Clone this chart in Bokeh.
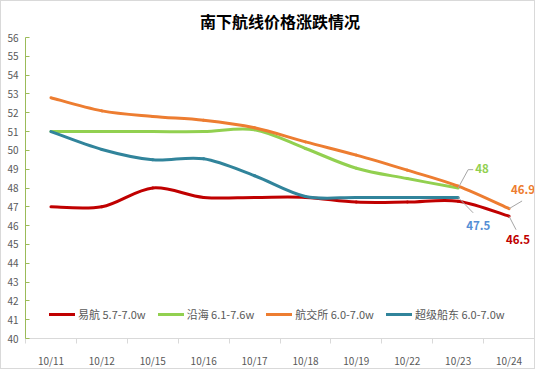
from bokeh.plotting import figure
from bokeh.models import FixedTicker, Legend, LegendItem, ColumnDataSource
from bokeh.core.properties import value
from bokeh.embed import file_html
from bokeh.resources import INLINE

# ---- data ----
dates = ["10/11", "10/12", "10/15", "10/16", "10/17", "10/18", "10/19", "10/22", "10/23", "10/24"]
yihang = [47.0, 47.0, 48.0, 47.5, 47.5, 47.5, 47.25, 47.25, 47.3, 46.5]
yanhai = [51.0, 51.0, 51.0, 51.0, 51.1, 50.1, 49.05, 48.5, 48.0, None]
hangjiaosuo = [52.8, 52.1, 51.8, 51.6, 51.2, 50.45, 49.75, 48.95, 48.1, 46.9]
chaoji = [51.0, 50.05, 49.5, 49.55, 48.65, 47.55, 47.5, 47.5, 47.5, None]

series_names = ["易航 5.7-7.0w", "沿海 6.1-7.6w", "航交所 6.0-7.0w", "超级船东 6.0-7.0w"]
series_vals = [yihang, yanhai, hangjiaosuo, chaoji]
series_colors = ["#C00000", "#92D050", "#ED7D31", "#31849B"]

FONT = "Noto Sans CJK SC"

p = figure(width=535, height=369, x_range=(-0.5, 9.5), y_range=(40, 56),
           output_backend="svg", toolbar_location=None,
           min_border_left=24, min_border_right=2, min_border_bottom=23, min_border_top=34)

p.title.text = "南下航线价格涨跌情况"
p.title.text_font = FONT
p.title.text_font_size = "16px"
p.title.text_font_style = "bold"
p.title.text_color = "#000000"
p.title.align = "center"

p.xgrid.visible = False
p.ygrid.visible = False
p.outline_line_color = None
p.background_fill_color = "white"
p.border_fill_color = "white"

# x axis
xa = p.xaxis[0]
xa.ticker = FixedTicker(ticks=list(range(len(dates))), minor_ticks=[i - 0.5 for i in range(len(dates) + 1)])
xa.major_label_overrides = {i: d for i, d in enumerate(dates)}
xa.major_tick_line_color = None
xa.major_tick_out = 0
xa.major_tick_in = 0
xa.minor_tick_line_color = "#D9D9D9"
xa.minor_tick_out = 5
xa.minor_tick_in = 0
xa.axis_line_color = "#D9D9D9"
xa.major_label_text_font = FONT
xa.major_label_text_font_size = "10px"
xa.major_label_text_color = "#595959"
xa.major_label_standoff = 9

# y axis
ya = p.yaxis[0]
ya.ticker = FixedTicker(ticks=list(range(40, 57)))
ya.major_tick_in = 4
ya.major_tick_out = 0
ya.major_tick_line_color = "#9BBB59"
ya.minor_tick_line_color = None
ya.axis_line_color = "#9BBB59"
ya.major_label_text_font = FONT
ya.major_label_text_font_size = "10px"
ya.major_label_text_color = "#595959"
ya.major_label_standoff = 7

# smoothed lines (Catmull-Rom style bezier through the data points)
items = []
for name, vals, col in zip(series_names, series_vals, series_colors):
    pts = [(i, v) for i, v in enumerate(vals) if v is not None]
    n = len(pts)
    x0, y0, x1, y1, cx0, cy0, cx1, cy1 = [], [], [], [], [], [], [], []
    for i in range(n - 1):
        pm = pts[i - 1] if i > 0 else pts[i]
        pa = pts[i]
        pb = pts[i + 1]
        pn = pts[i + 2] if i + 2 < n else pts[i + 1]
        x0.append(pa[0]); y0.append(pa[1])
        x1.append(pb[0]); y1.append(pb[1])
        cx0.append(pa[0] + (pb[0] - pm[0]) / 6.0)
        cy0.append(pa[1] + (pb[1] - pm[1]) / 6.0)
        cx1.append(pb[0] - (pn[0] - pa[0]) / 6.0)
        cy1.append(pb[1] - (pn[1] - pa[1]) / 6.0)
    src = ColumnDataSource(dict(x0=x0, y0=y0, x1=x1, y1=y1, cx0=cx0, cy0=cy0, cx1=cx1, cy1=cy1))
    r = p.bezier(x0="x0", y0="y0", x1="x1", y1="y1", cx0="cx0", cy0="cy0", cx1="cx1", cy1="cy1",
                 source=src, line_color=col, line_width=3, line_cap="round")
    items.append(LegendItem(label=name, renderers=[r]))

legend = Legend(items=items, orientation="horizontal", location=(24, 16),
                glyph_width=26, glyph_height=14, label_standoff=3, spacing=12,
                padding=0, margin=0, border_line_color=None, background_fill_alpha=0,
                label_text_font=FONT, label_text_font_size="11px", label_text_color="#595959")
p.add_layout(legend)

# data labels at series end points, with grey leader lines
px_x = 1 / 50.8   # data units per pixel (x)
px_y = 1 / 19.5   # data units per pixel (y)
lab_defs = [
    # (series index, label colour, text dx, text dy, leader end dx, leader end dy) in pixels
    (1, "#92D050", 17, -20, 10, -19),
    (2, "#ED7D31", 2, -19, 13, -8),
    (3, "#558ED5", 8, 28, 15, 16),
    (0, "#C00000", -3, 23, 7, 14),
]
for si, col, tdx, tdy, ldx, ldy in lab_defs:
    vals = series_vals[si]
    idx = max(i for i, v in enumerate(vals) if v is not None)
    v = vals[idx]
    txt = ("%g" % v)
    p.segment(x0=[idx], y0=[v], x1=[idx + ldx * px_x], y1=[v - ldy * px_y],
              line_color="#A6A6A6", line_width=1)
    if si == 1:
        p.segment(x0=[idx + ldx * px_x], y0=[v - ldy * px_y], x1=[idx + (ldx + 5) * px_x], y1=[v - ldy * px_y],
                  line_color="#A6A6A6", line_width=1)
    p.text(x=[idx], y=[v], text=[txt], x_offset=tdx, y_offset=tdy,
           text_color=col, text_font=value(FONT), text_font_size="11.5px", text_font_style="bold",
           text_align="left", text_baseline="middle")

p.styles = {"border": "1px solid #D9D9D9", "box-sizing": "border-box"}

open("out.html", "w").write(file_html(p, INLINE))
